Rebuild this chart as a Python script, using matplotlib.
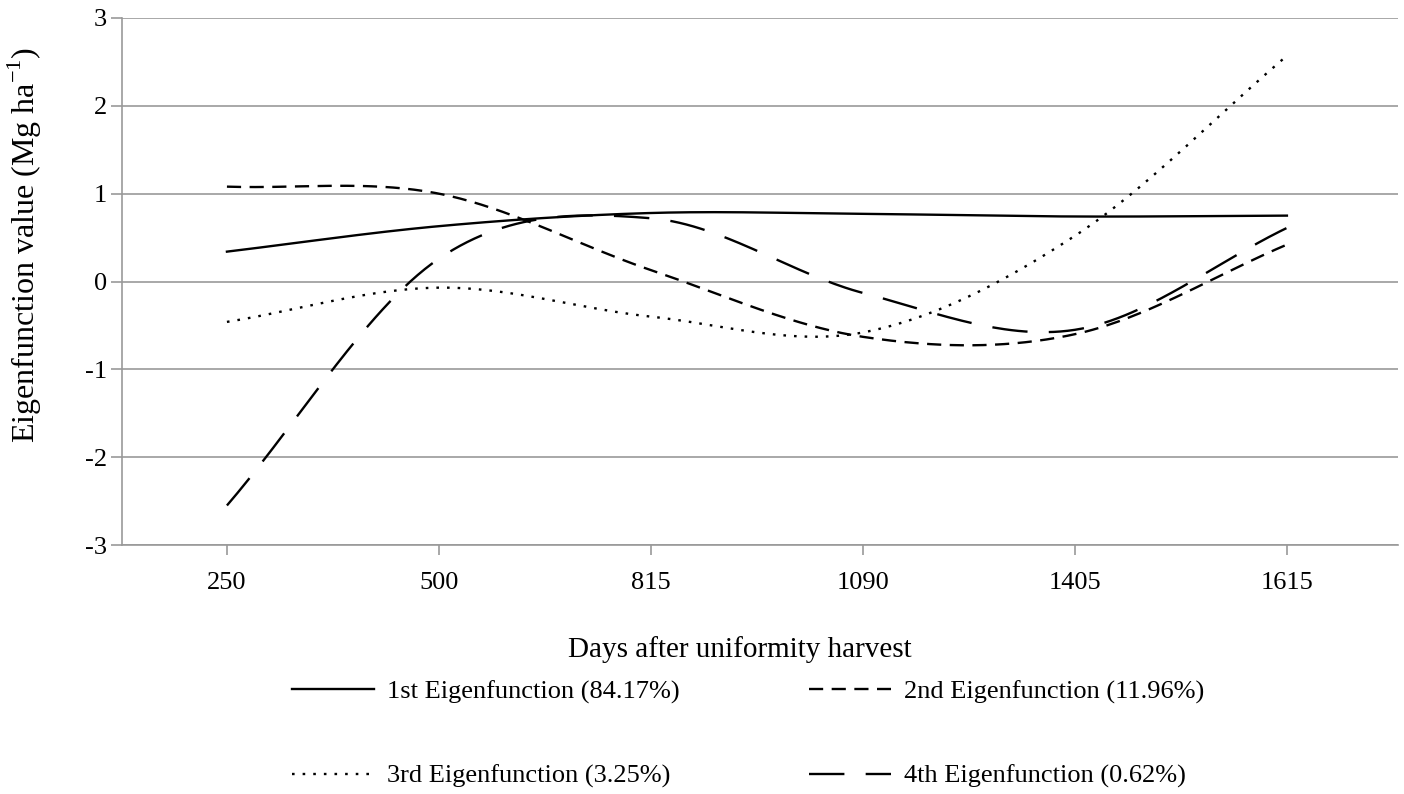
import numpy as np
import matplotlib
matplotlib.use("Agg")
import matplotlib.pyplot as plt

plt.rcParams['font.family'] = ['Liberation Serif', 'DejaVu Serif']
plt.rcParams['axes.unicode_minus'] = False
plt.rcParams['mathtext.fontset'] = 'custom'
plt.rcParams['mathtext.rm'] = 'Liberation Serif'

# ---- data ----
days = ['250', '500', '815', '1090', '1405', '1615']
ef1 = [0.34, 0.63, 0.78, 0.77, 0.74, 0.75]
ef2 = [1.08, 1.00, 0.13, -0.63, -0.60, 0.42]
ef3 = [-0.46, -0.07, -0.40, -0.58, 0.52, 2.57]
ef4 = [-2.55, 0.26, 0.72, -0.13, -0.55, 0.61]
labels = ['1st Eigenfunction (84.17%)', '2nd Eigenfunction (11.96%)',
          '3rd Eigenfunction (3.25%)', '4th Eigenfunction (0.62%)']
yticks = [-3, -2, -1, 0, 1, 2, 3]


def smooth(vals, n=60):
    """Catmull-Rom curve through the points (like a smoothed line chart)."""
    p = np.asarray(vals, float)
    ext = np.concatenate([[2 * p[0] - p[1]], p, [2 * p[-1] - p[-2]]])
    xs, ys = [], []
    for i in range(len(p) - 1):
        q0, q1, q2, q3 = ext[i:i + 4]
        m1 = (q2 - q0) / 2.0
        m2 = (q3 - q1) / 2.0
        t = np.linspace(0, 1, n, endpoint=(i == len(p) - 2))
        h00 = 2 * t**3 - 3 * t**2 + 1
        h10 = t**3 - 2 * t**2 + t
        h01 = -2 * t**3 + 3 * t**2
        h11 = t**3 - t**2
        ys.append(h00 * q1 + h10 * m1 + h01 * q2 + h11 * m2)
        xs.append(i + t)
    return np.concatenate(xs), np.concatenate(ys)


fig = plt.figure(figsize=(14.04, 7.94), dpi=100)
W, H = 1404, 794
ax = fig.add_axes([122 / W, 1 - 545 / H, (1398 - 122) / W, (545 - 18) / H])

FS = 19
grey = '#999999'
lw = 1.7
styles = [
    dict(linestyle='-'),
    dict(linestyle=(0, (6.0, 3.6))),
    dict(linestyle=(0, (1.1, 3.4))),
    dict(linestyle=(0, (15.0, 9.0))),
]
lines = []
for vals, st, lab in zip([ef1, ef2, ef3, ef4], styles, labels):
    xs, ys = smooth(vals)
    ln, = ax.plot(xs, ys, color='black', lw=lw, label=lab, **st)
    lines.append(ln)

ax.set_xlim(-0.495, 5.524)
ax.set_ylim(-3, 3)
ax.set_xticks(range(len(days)))
ax.set_xticklabels(days)
ax.set_yticks(yticks)
ax.set_yticklabels([str(v) for v in yticks])

ax.yaxis.grid(True, color=grey, lw=1.2)
ax.set_axisbelow(True)
for s in ['top', 'right']:
    ax.spines[s].set_visible(False)
for s in ['left', 'bottom']:
    ax.spines[s].set_color(grey)
    ax.spines[s].set_linewidth(1.2)

ax.tick_params(axis='y', length=8, width=1.2, color=grey, pad=3, labelsize=FS)
ax.tick_params(axis='x', length=7.5, width=1.2, color=grey, pad=12, labelsize=FS)

ax.set_xlabel('Days after uniformity harvest', fontsize=21)
ax.xaxis.set_label_coords((740 - 122) / 1276, -(650 - 545) / 527, transform=ax.transAxes)
ax.xaxis.label.set_va('center')
ax.set_ylabel('Eigenfunction value (Mg ha$^{\\mathregular{-1}}$)', fontsize=23)
ax.yaxis.set_label_coords((44 - 122) / 1276, (545 - 245) / 527)

handles = [lines[0], lines[2], lines[1], lines[3]]
labs = [labels[0], labels[2], labels[1], labels[3]]
fig.legend(handles, labs, loc='center', bbox_to_anchor=(748 / W, 1 - 734 / H),
           ncol=2, frameon=False, fontsize=FS, handlelength=3.1,
           handletextpad=0.5, columnspacing=4.9, labelspacing=2.3,
           borderpad=0)

fig.savefig('out.png', dpi=100)
